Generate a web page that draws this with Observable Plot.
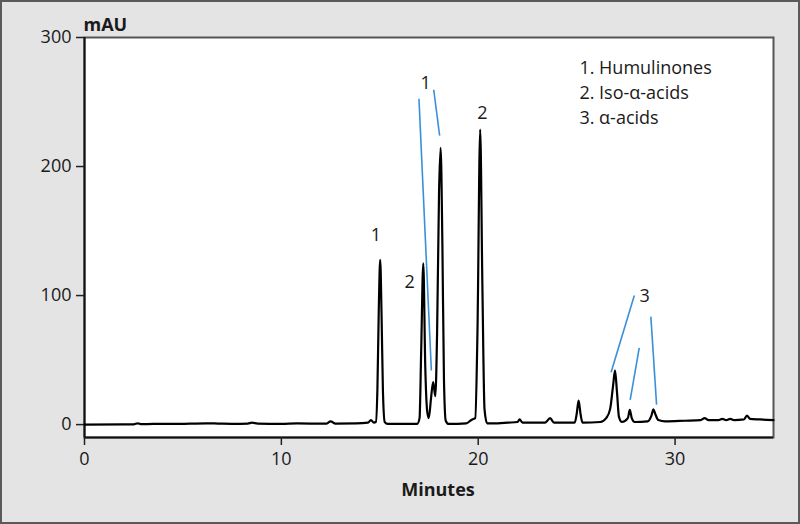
<!DOCTYPE html>
<html>
<head>
<meta charset="utf-8">
<script src="https://cdn.jsdelivr.net/npm/d3@7"></script>
<script src="https://cdn.jsdelivr.net/npm/@observablehq/plot@0.6"></script>
<style>
  html, body { margin: 0; padding: 0; background: #e4e4e4; }
  #wrap { position: relative; width: 800px; height: 524px; overflow: hidden; }
  #border { position: absolute; left: 0; top: 0; width: 800px; height: 524px; box-sizing: border-box; border: 2px solid #5a5a5a; pointer-events: none; }
  svg { font-family: "Open Sans", "DejaVu Sans", sans-serif; }
</style>
</head>
<body>
<div id="wrap"><div id="border"></div></div>
<script>
// Chromatogram trace: retention time (minutes) and absorbance (mAU)
const minutes = [0, 2.5, 2.7, 2.9, 3.5, 4.5, 6.2, 6.8, 7.5, 8.3, 8.5, 8.8, 10.0, 10.8, 11.5, 12.3, 12.5, 12.75, 13.8, 14.4, 14.55, 14.7,
  14.8, 14.88, 14.95, 15.02, 15.09, 15.16, 15.25, 15.4,
  16.9, 17.02, 17.10, 17.21, 17.31, 17.41, 17.49, 17.6, 17.71, 17.82, 17.91, 18.01, 18.09, 18.18, 18.26, 18.35, 18.5,
  19.4, 19.6, 19.7, 19.85, 19.96, 20.1, 20.21, 20.32, 20.45,
  21.0, 21.5, 22.0, 22.1, 22.25, 23.4, 23.65, 23.85, 24.9, 25.0, 25.1, 25.2, 25.3,
  26.2, 26.5, 26.7, 26.85, 26.95, 27.05, 27.15, 27.3, 27.6, 27.7, 27.8, 27.95, 28.6, 28.8, 28.9, 29.0, 29.15, 29.5,
  30.5, 31.3, 31.5, 31.7, 32.2, 32.4, 32.6, 32.8, 33.0, 33.5, 33.65, 33.8, 34.3, 35];
const mAU = [0, 0.2, 1.0, 0.3, 0.5, 0.5, 1.0, 0.8, 0.6, 0.8, 1.5, 0.8, 0.5, 0.9, 0.8, 0.8, 2.5, 0.8, 0.9, 1.5, 3.5, 1.5,
  2, 28, 90, 127.7, 85, 26, 2, 0.5,
  0.5, 5, 55, 125, 45, 10, 5, 20, 33, 22, 70, 180, 214.5, 140, 35, 3, 0.5,
  1, 3, 4, 5, 70, 228.7, 110, 12, 1,
  1, 1.5, 2, 4, 1.5, 1.5, 5, 1.5, 1.5, 8, 18.6, 8, 1.5,
  2, 5, 12, 30, 42, 25, 6, 2, 5, 11.4, 5, 2, 2.5, 7, 11.9, 8, 3.5, 2.5,
  3, 3.5, 5, 3.5, 3.5, 4.5, 3.5, 4.5, 3.5, 4, 7, 4.5, 4, 3.5];

// Peak annotations
const peakLabels = ["1", "2", "1", "2", "3"];
const peakLabelX = [14.8, 16.52, 17.33, 20.21, 28.46];
const peakLabelY = [146.5, 110.3, 264.3, 241.3, 99.2];

// Leader lines (blue)
const leadX1 = [16.99, 17.74, 27.93, 28.18, 28.77];
const leadY1 = [252.5, 259.5, 100, 59.5, 83.7];
const leadX2 = [17.62, 18.04, 26.75, 27.72, 29.06];
const leadY2 = [41.9, 224, 40.5, 19.1, 15.5];

// Legend
const legendLines = ["1. Humulinones", "2. Iso-\u03B1-acids", "3. \u03B1-acids"];
const legendY = [276, 257, 237.5];

const xTicks = [0, 10, 20, 30];
const yTicks = [0, 100, 200, 300];

const trace = minutes.map((m, i) => ({m, v: mAU[i]}));
const labels = peakLabels.map((t, i) => ({t, x: peakLabelX[i], y: peakLabelY[i]}));
const leads = leadX1.map((x1, i) => ({x1, y1: leadY1[i], x2: leadX2[i], y2: leadY2[i]}));
const legend = legendLines.map((t, i) => ({t, y: legendY[i]}));

const chart = Plot.plot({
  width: 800,
  height: 524,
  marginLeft: 84,
  marginRight: 27,
  marginTop: 37,
  marginBottom: 87,
  style: {background: "transparent", color: "#1a1a1a", fontSize: "18px", fontFamily: "'Open Sans', sans-serif"},
  x: {domain: [0, 35]},
  y: {domain: [-10, 300]},
  marks: [
    Plot.frame({fill: "white", stroke: "#555", strokeWidth: 2}),
    Plot.ruleX([0], {stroke: "#111", strokeWidth: 2}),
    Plot.ruleY([-10], {stroke: "#111", strokeWidth: 2}),
    Plot.axisY({ticks: yTicks, tickSize: 8, tickPadding: 5, label: null, fontSize: 18, stroke: "#222", strokeWidth: 1.5}),
    Plot.axisX({ticks: xTicks, tickSize: 8, tickPadding: 7, label: null, fontSize: 18, stroke: "#222", strokeWidth: 1.5}),
    Plot.text(["mAU"], {frameAnchor: "top-left", dy: -19, dx: -1, fontWeight: "bold", fontSize: 18, fill: "#1a1a1a", textAnchor: "start"}),
    Plot.text(["Minutes"], {frameAnchor: "bottom", dy: 58, dx: 9, fontWeight: "bold", fontSize: 18, fill: "#1a1a1a"}),
    Plot.link(leads, {x1: "x1", y1: "y1", x2: "x2", y2: "y2", stroke: "#3b8fd9", strokeWidth: 1.6}),
    Plot.line(trace, {x: "m", y: "v", stroke: "#000", strokeWidth: 2.2, curve: "monotone-x"}),
    Plot.text(labels, {x: "x", y: "y", text: "t", fontSize: 18, fill: "#1a1a1a"}),
    Plot.text(legend, {x: 25.14, y: "y", text: "t", textAnchor: "start", fontSize: 18, fill: "#1a1a1a"})
  ]
});
document.getElementById("wrap").insertBefore(chart, document.getElementById("border"));
</script>
</body>
</html>
